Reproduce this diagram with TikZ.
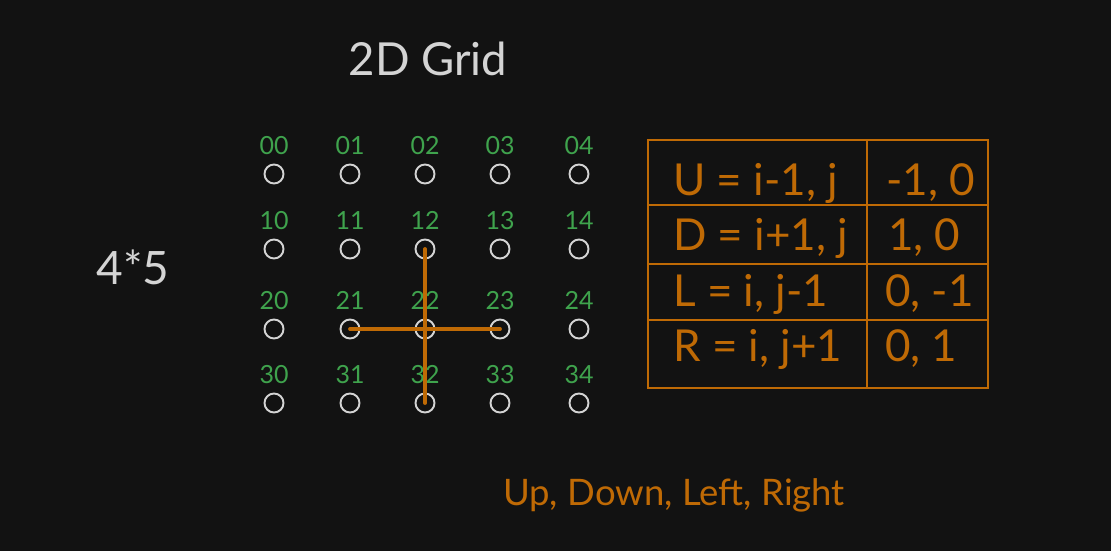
\documentclass[tikz,border=0pt]{standalone}
\usepackage{fontspec}
\setmainfont{Lato}
\usepackage{xcolor}
\usetikzlibrary{positioning}
\definecolor{bgdark}{HTML}{121212}
\definecolor{dotgray}{HTML}{D4D4D4}
\definecolor{idgreen}{HTML}{3FA34D}
\definecolor{dirorange}{HTML}{BF6A05}

\begin{document}
\begin{tikzpicture}[x=1pt, y=-1pt,
    dot/.style={circle, draw=dotgray, line width=1.9pt, minimum size=19pt, inner sep=0pt},
    num/.style={inner sep=0pt, text=idgreen, font=\fontsize{25}{25}\selectfont},
    move/.style={draw=dirorange, line width=3.8pt, line cap=round},
    cell/.style={anchor=base west, inner sep=0pt, text=dirorange, font=\fontsize{44}{44}\selectfont}]
    % --- Background and bounding box ---
    \fill[bgdark] (0,0) rectangle (1111,551);
    \useasboundingbox (0,0) rectangle (1111,551);

    % --- Titles ---
    \node[text=dotgray, font=\fontsize{45.5}{46}\selectfont, anchor=base] (title) at (428,76) {2D Grid};
    \node[text=dotgray, font=\fontsize{46}{46}\selectfont, anchor=base] (size) at (133,284) {4*5};
    \node[text=dirorange, font=\fontsize{36.5}{37}\selectfont, anchor=base] (dirs) at (674,505) {Up, Down, Left, Right};

    % --- Grid of cells (row r, column c) ---
    \foreach \r/\y in {0/174, 1/249, 2/329, 3/403} {
        \foreach \c/\x in {0/274, 1/350, 2/425, 3/500, 4/579} {
            \node[dot] (c\r\c) at (\x,\y) {};
            \node[num, above=9pt of c\r\c] (l\r\c) {\r\c};
        }
    }

    % Neighbours of cell 22
    \draw[move] (c12.center) -- (c32.center);
    \draw[move] (c21.center) -- (c23.center);

    % --- Direction table ---
    \draw[dirorange, line width=1.8pt] (648,140) rectangle (988,388);
    \draw[dirorange, line width=1.8pt] (867,140) -- (867,388);
    \foreach \y in {205, 264, 320}
        \draw[dirorange, line width=1.8pt] (648,\y) -- (988,\y);

    \node[cell] (u) at (673,195) {U = i-1, j};
    \node[cell] (d) at (673,250) {D = i+1, j};
    \node[cell] (l) at (673,306) {L = i, j-1};
    \node[cell] (r) at (673,361) {R = i, j+1};
    \node[cell] (du) at (886,195) {-1, 0};
    \node[cell] (dd) at (888,250) {1, 0};
    \node[cell] (dl) at (885,306) {0, -1};
    \node[cell] (dr) at (885,361) {0, 1};
\end{tikzpicture}
\end{document}
